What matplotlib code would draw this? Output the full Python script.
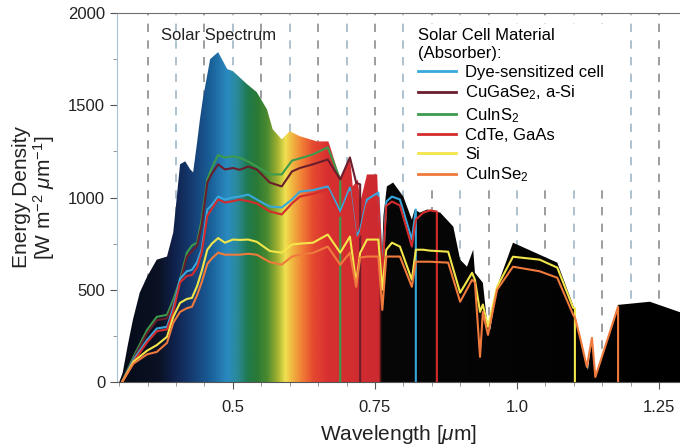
import numpy as np
import matplotlib
matplotlib.use('Agg')
import matplotlib.pyplot as plt
from matplotlib.colors import LinearSegmentedColormap
from matplotlib.ticker import MultipleLocator, FixedLocator

plt.rcParams['font.family'] = ['Liberation Sans', 'DejaVu Sans']
plt.rcParams['mathtext.fontset'] = 'custom'
plt.rcParams['mathtext.rm'] = 'Liberation Sans'
plt.rcParams['mathtext.it'] = 'Liberation Sans:italic'

# solar spectrum envelope (wavelength in um, W m-2 um-1)
SPEC_WL = [0.300, 0.306, 0.315, 0.324, 0.336, 0.349, 0.366, 0.384, 0.395, 0.407,
           0.416, 0.425, 0.430, 0.437, 0.442, 0.447, 0.460, 0.474, 0.490, 0.500,
           0.525, 0.542, 0.560, 0.570, 0.586, 0.600, 0.618, 0.648, 0.668, 0.671,
           0.689, 0.706, 0.711, 0.720, 0.724, 0.736, 0.754, 0.757, 0.761, 0.765,
           0.771, 0.782, 0.800, 0.815, 0.820, 0.829, 0.842, 0.865, 0.888, 0.900,
           0.912, 0.923, 0.926, 0.940, 0.947, 0.953, 0.965, 0.993, 1.071, 1.100,
           1.110, 1.125, 1.132, 1.138, 1.178, 1.234, 1.290]
SPEC_VAL = [0, 50, 200, 337, 484, 571, 663, 680, 810, 1180,
            1196, 1152, 1136, 1299, 1424, 1532, 1750, 1788, 1696, 1685,
            1614, 1571, 1478, 1370, 1315, 1359, 1332, 1304, 1304, 1277,
            1098, 1223, 1060, 1098, 973, 1125, 1125, 880, 560, 900,
            1060, 1081, 1005, 880, 935, 918, 935, 918, 842, 663,
            625, 717, 592, 538, 337, 283, 516, 755, 647, 408,
            245, 65, 245, 27, 418, 435, 375]

# common wavelength grid for the cell curves; each curve uses the first
# len(values) points and then drops to zero at its last wavelength
CELL_WL = [0.305, 0.325, 0.349, 0.366, 0.384, 0.395, 0.407, 0.419, 0.428, 0.437,
           0.445, 0.455, 0.463, 0.474, 0.486, 0.500, 0.512, 0.527, 0.542, 0.565,
           0.586, 0.604, 0.618, 0.641, 0.667, 0.689, 0.706, 0.717, 0.724, 0.736,
           0.756, 0.763, 0.770, 0.780, 0.794, 0.815, 0.822, 0.835, 0.847, 0.859,
           0.879, 0.900, 0.921, 0.926, 0.935, 0.940, 0.949, 0.965, 0.993, 1.040,
           1.071, 1.099, 1.102, 1.112, 1.123, 1.132, 1.138, 1.178]

DYE = [0, 120, 228, 290, 299, 400, 560, 600, 608, 650,
       720, 935, 960, 1005, 989, 1000, 1005, 1016, 989, 951,
       946, 989, 1032, 1040, 1060, 924, 1054, 788, 826, 989,
       1027, 592, 978, 1005, 989, 772, 935]
CUGASE2 = [0, 125, 265, 335, 345, 420, 540, 680, 710, 740,
           850, 1081, 1130, 1179, 1152, 1160, 1150, 1168, 1152, 1081,
           1060, 1141, 1160, 1180, 1206, 1098, 1217, 1080, 1071]
CUINS2 = [0, 136, 283, 353, 364, 446, 554, 701, 740, 755,
          880, 1098, 1160, 1230, 1217, 1223, 1215, 1195, 1168, 1125,
          1125, 1200, 1212, 1234, 1272, 1098]
CDTE = [0, 110, 215, 275, 285, 380, 540, 575, 580, 620,
        700, 900, 940, 989, 973, 980, 989, 980, 968, 924,
        908, 968, 1005, 1020, 1043, 900, 1030, 770, 800, 965,
        1000, 570, 955, 978, 957, 734, 880, 918, 930, 924]
SI = [0, 110, 170, 200, 245, 353, 429, 450, 456, 520,
      600, 717, 750, 780, 755, 772, 770, 772, 760, 710,
      701, 745, 750, 755, 799, 701, 788, 538, 700, 772,
      772, 500, 717, 755, 734, 554, 717, 717, 712, 710,
      706, 484, 592, 554, 380, 420, 299, 516, 679, 663,
      620, 402, 400]
CUINSE2 = [0, 100, 150, 163, 212, 321, 380, 400, 408, 470,
           540, 640, 670, 701, 690, 690, 690, 695, 690, 650,
           636, 680, 690, 700, 734, 636, 701, 516, 674, 680,
           680, 391, 680, 680, 680, 516, 652, 652, 652, 650,
           647, 435, 554, 540, 136, 380, 255, 500, 625, 600,
           565, 364, 350, 230, 82, 239, 27, 408]

LABELS = ['Dye-sensitized cell', 'CuGaSe$_2$, a-Si', 'CuInS$_2$',
          'CdTe, GaAs', 'Si', 'CuInSe$_2$']
SERIES = [DYE, CUGASE2, CUINS2, CDTE, SI, CUINSE2]
COLORS = ['#38a8dc', '#6a1e2c', '#3c9a4c', '#d42c2c', '#f2e64a', '#f07a3c']
PLOT_ORDER = [2, 1, 0, 3, 4, 5]

GUIDE_WL = [0.35, 0.40, 0.45, 0.50, 0.55, 0.60, 0.65, 0.70, 0.75, 0.80,
            0.85, 0.90, 0.95, 1.00, 1.05, 1.10, 1.15, 1.20, 1.25]

# rainbow colour stops for the fill under the spectrum
RAINBOW = [(0.296, '#050a16'), (0.370, '#0a1224'), (0.395, '#10204a'),
           (0.425, '#153a70'), (0.460, '#1a5f98'), (0.490, '#2a8ac0'),
           (0.507, '#2a8a9a'), (0.525, '#1f7a50'), (0.542, '#2a7a35'),
           (0.560, '#4a8a30'), (0.578, '#a0b030'), (0.592, '#f0e050'),
           (0.606, '#f0b040'), (0.623, '#f07a35'), (0.641, '#e54a30'),
           (0.666, '#d83030'), (0.757, '#cc2a30'), (0.762, '#070707'),
           (1.290, '#000000')]

X0, X1 = 0.296, 1.287

fig = plt.figure(figsize=(6.8, 4.47), dpi=100)
ax = fig.add_axes([117 / 680, 65 / 447, 563 / 680, 369 / 447])

for i, wl in enumerate(GUIDE_WL):
    col = '#8c8c8c' if i % 2 == 0 else '#9fb6c6'
    ax.axvline(wl, color=col, lw=1.2, ls=(0, (5, 5)), zorder=0)

poly = ax.fill_between(SPEC_WL, SPEC_VAL, 0, facecolor='none',
                       edgecolor='none', zorder=1)
cx0, cx1 = RAINBOW[0][0], RAINBOW[-1][0]
cmap = LinearSegmentedColormap.from_list(
    'spec', [((w - cx0) / (cx1 - cx0), c) for w, c in RAINBOW], N=1024)
grad = np.linspace(0, 1, 1200).reshape(1, -1)
im = ax.imshow(grad, cmap=cmap, extent=[cx0, cx1, 0, 2000], aspect='auto',
               interpolation='bilinear', zorder=1)
im.set_clip_path(poly.get_paths()[0], transform=ax.transData)

for k in PLOT_ORDER:
    vals = SERIES[k]
    xs = CELL_WL[:len(vals)] + [CELL_WL[len(vals) - 1]]
    ys = vals + [0]
    ax.plot(xs, ys, color=COLORS[k], lw=1.5, zorder=3)

handles = [plt.Line2D([], [], color=COLORS[k], lw=2) for k in range(6)]
leg = ax.legend(handles, LABELS, title='Solar Cell Material\n(Absorber):',
                loc='upper left', bbox_to_anchor=(414 / 680, 1 - 24 / 447),
                bbox_transform=fig.transFigure, frameon=True, fontsize=12,
                title_fontsize=12, alignment='left', handlelength=2.3,
                handletextpad=0.5, labelspacing=0.22, borderaxespad=0,
                borderpad=0.25, fancybox=False, framealpha=1)
leg.get_frame().set_facecolor('white')
leg.get_frame().set_edgecolor('none')
leg.get_title().set_linespacing(1.25)
leg.set_zorder(5)

ax.text(0.373, 1880, 'Solar Spectrum', fontsize=12, va='center',
        color='#222222')

ax.set_xlim(X0, X1)
ax.set_ylim(0, 2000)
ax.xaxis.set_major_locator(FixedLocator([0.5, 0.75, 1.0, 1.25]))
ax.set_xticklabels(['0.5', '0.75', '1.0', '1.25'])
ax.xaxis.set_minor_locator(MultipleLocator(0.05))
ax.yaxis.set_major_locator(MultipleLocator(500))
ax.yaxis.set_minor_locator(MultipleLocator(250))
ax.tick_params(which='major', labelsize=12, length=5, color='#555555',
               labelcolor='#222222')
ax.tick_params(which='minor', length=3, color='#888888')
ax.tick_params(axis='x', pad=8)

ax.spines['right'].set_visible(False)
ax.spines['left'].set_color('#a9c3d6')
ax.spines['top'].set_color('#707070')
ax.spines['bottom'].set_color('#555555')

ax.set_xlabel('Wavelength [$\\mu$m]', fontsize=15, color='#222222', labelpad=6)
ax.set_ylabel('Energy Density\n[W m$^{-2}$ $\\mu$m$^{-1}$]', fontsize=15,
              color='#222222', labelpad=8, linespacing=1.0)

fig.savefig('out.png', dpi=100)
